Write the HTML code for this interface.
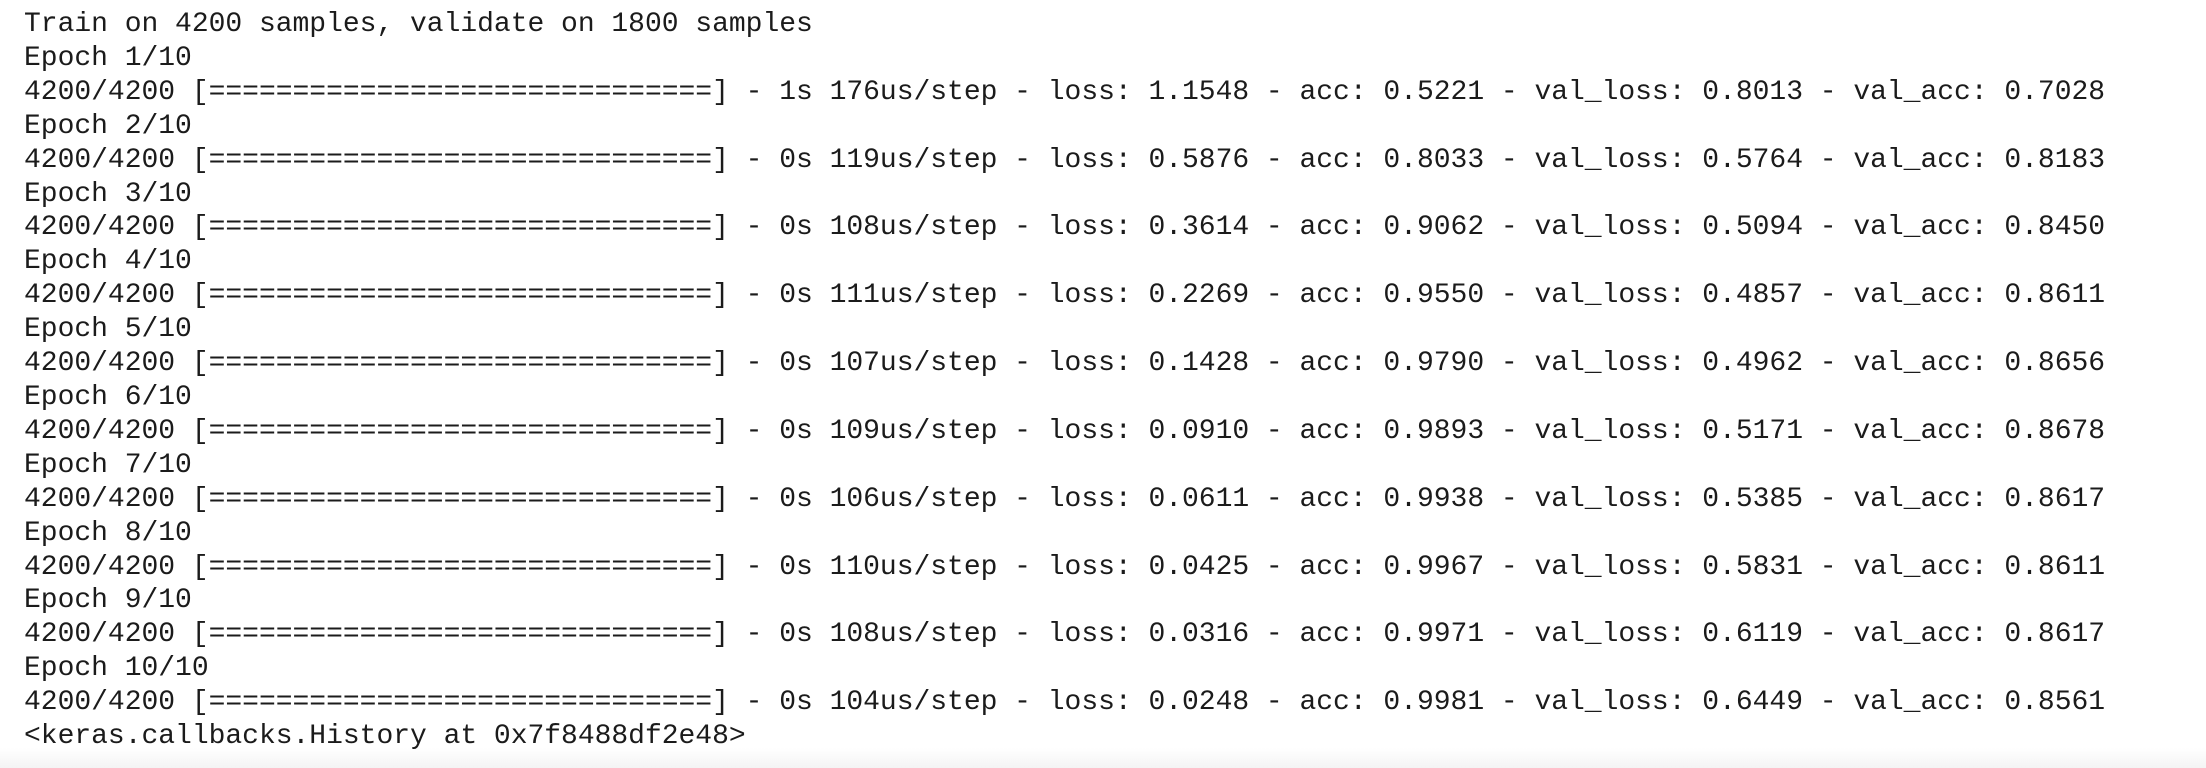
<!DOCTYPE html>
<html><head><meta charset="utf-8"><style>
html,body{margin:0;padding:0;width:2206px;height:768px;overflow:hidden;background:#fff;}
body{background:linear-gradient(to bottom,#fff 0,#fff 748px,#f4f4f4 768px);}
pre{margin:0;position:absolute;left:24px;top:8px;font-family:"Liberation Mono",monospace;font-size:28px;letter-spacing:-0.02px;line-height:33.9px;color:#1b1b1b;}
</style></head><body>
<pre>Train on 4200 samples, validate on 1800 samples
Epoch 1/10
4200/4200 [==============================] - 1s 176us/step - loss: 1.1548 - acc: 0.5221 - val_loss: 0.8013 - val_acc: 0.7028
Epoch 2/10
4200/4200 [==============================] - 0s 119us/step - loss: 0.5876 - acc: 0.8033 - val_loss: 0.5764 - val_acc: 0.8183
Epoch 3/10
4200/4200 [==============================] - 0s 108us/step - loss: 0.3614 - acc: 0.9062 - val_loss: 0.5094 - val_acc: 0.8450
Epoch 4/10
4200/4200 [==============================] - 0s 111us/step - loss: 0.2269 - acc: 0.9550 - val_loss: 0.4857 - val_acc: 0.8611
Epoch 5/10
4200/4200 [==============================] - 0s 107us/step - loss: 0.1428 - acc: 0.9790 - val_loss: 0.4962 - val_acc: 0.8656
Epoch 6/10
4200/4200 [==============================] - 0s 109us/step - loss: 0.0910 - acc: 0.9893 - val_loss: 0.5171 - val_acc: 0.8678
Epoch 7/10
4200/4200 [==============================] - 0s 106us/step - loss: 0.0611 - acc: 0.9938 - val_loss: 0.5385 - val_acc: 0.8617
Epoch 8/10
4200/4200 [==============================] - 0s 110us/step - loss: 0.0425 - acc: 0.9967 - val_loss: 0.5831 - val_acc: 0.8611
Epoch 9/10
4200/4200 [==============================] - 0s 108us/step - loss: 0.0316 - acc: 0.9971 - val_loss: 0.6119 - val_acc: 0.8617
Epoch 10/10
4200/4200 [==============================] - 0s 104us/step - loss: 0.0248 - acc: 0.9981 - val_loss: 0.6449 - val_acc: 0.8561
&lt;keras.callbacks.History at 0x7f8488df2e48&gt;</pre>
</body></html>
